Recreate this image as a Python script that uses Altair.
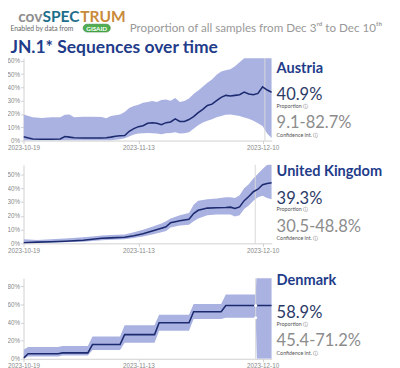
import altair as alt
import pandas as pd

# ---------------- data ----------------
X_START = "2023-10-19"
X_END = "2023-12-12"
TICKS = ["2023-10-19", "2023-11-13", "2023-12-10"]

# Austria
at_dates = ["2023-10-19", "2023-10-21", "2023-10-23", "2023-10-25", "2023-10-27", "2023-10-28",
            "2023-10-29", "2023-10-30", "2023-11-01", "2023-11-03", "2023-11-05", "2023-11-06",
            "2023-11-07", "2023-11-08", "2023-11-09", "2023-11-10", "2023-11-11", "2023-11-12",
            "2023-11-13", "2023-11-14", "2023-11-15", "2023-11-16", "2023-11-17", "2023-11-18",
            "2023-11-19", "2023-11-20", "2023-11-21", "2023-11-22", "2023-11-23", "2023-11-24",
            "2023-11-25", "2023-11-26", "2023-11-27", "2023-11-28", "2023-11-29", "2023-11-30",
            "2023-12-01", "2023-12-02", "2023-12-03", "2023-12-04", "2023-12-05", "2023-12-06",
            "2023-12-07", "2023-12-08", "2023-12-09", "2023-12-10", "2023-12-11", "2023-12-12"]
at_value = [2.9, 1.2, 1.0, 1.0, 1.2, 3.0, 2.6, 2.2, 2.0, 2.0, 2.0, 2.2, 2.6, 3.2, 3.6, 3.8, 7.0, 9.0,
            10.5, 11.2, 13.0, 13.4, 13.0, 12.0, 13.5, 14.0, 16.3, 14.4, 14.4, 15.8, 18.0, 21.0, 23.5,
            26.4, 27.4, 30.0, 32.5, 34.0, 33.5, 34.0, 34.5, 36.5, 35.0, 34.5, 35.5, 40.5, 38.0, 36.4]
at_lower = [0, 0, 0, 0, 0, 0, 0, 0, 0, 0, 0, 0, 0, 0.6, 1.0, 1.7, 3.0, 4.5, 5.3, 5.6, 5.8, 5.6, 5.3,
            4.8, 5.5, 5.8, 6.2, 5.3, 5.5, 6.2, 8.9, 11.5, 13.7, 15.0, 16.0, 17.5, 18.5, 19.5, 19.7,
            19.0, 18.5, 17.3, 16.5, 15.0, 13.0, 11.0, 5.3, 1.7]
at_upper = [19.7, 17.5, 17.0, 17.5, 17.5, 19.5, 19.7, 17.5, 18.0, 18.0, 17.8, 16.8, 18.5, 19.0, 19.7,
            21.6, 24.5, 26.0, 27.0, 28.5, 29.0, 29.7, 29.0, 30.5, 31.0, 30.0, 32.0, 29.0, 29.7, 31.7,
            35.0, 37.6, 40.5, 43.6, 46.0, 49.6, 52.0, 53.0, 53.7, 56.0, 59.0, 62.0, 64.0, 66.0, 66.0,
            66.0, 66.0, 66.0]

# United Kingdom
uk_dates = ["2023-10-19", "2023-10-22", "2023-10-25", "2023-10-28", "2023-11-01", "2023-11-03",
            "2023-11-05", "2023-11-07", "2023-11-10", "2023-11-12", "2023-11-14", "2023-11-16",
            "2023-11-18", "2023-11-19", "2023-11-20", "2023-11-22", "2023-11-24", "2023-11-25",
            "2023-11-26", "2023-11-28", "2023-11-30", "2023-12-02", "2023-12-03", "2023-12-04",
            "2023-12-05", "2023-12-06", "2023-12-07", "2023-12-08", "2023-12-09", "2023-12-10",
            "2023-12-11", "2023-12-12"]
uk_value = [0.5, 0.9, 1.2, 1.6, 2.3, 3.0, 3.7, 4.0, 4.4, 5.6, 7.0, 9.0, 11.0, 12.0, 15.0, 16.5, 17.5,
            21.6, 24.0, 25.6, 25.8, 26.0, 26.3, 25.3, 26.5, 31.0, 34.0, 37.5, 39.3, 42.5, 43.5, 44.0]
uk_lower = [0.0, 0.3, 0.5, 0.8, 1.2, 1.8, 2.3, 2.6, 3.0, 3.9, 5.0, 6.5, 8.0, 9.0, 11.5, 13.0, 13.5,
            16.0, 18.0, 20.5, 21.0, 21.0, 21.0, 19.5, 20.5, 25.0, 27.5, 31.0, 33.5, 34.5, 33.0, 32.0]
uk_upper = [3.0, 2.5, 3.0, 3.5, 4.5, 5.0, 5.8, 6.0, 6.5, 8.0, 9.8, 12.0, 14.5, 16.0, 18.0, 20.5, 22.0,
            28.0, 31.0, 32.0, 32.5, 33.5, 33.5, 33.0, 35.0, 40.0, 43.0, 47.0, 50.5, 54.0, 57.0, 58.0]

# Denmark (weekly steps)
dk_dates = ["2023-10-19T00:00", "2023-10-20T00:00", "2023-10-26T12:00", "2023-10-27T12:00",
            "2023-11-02T00:00", "2023-11-03T00:00", "2023-11-09T00:00", "2023-11-10T00:00",
            "2023-11-16T12:00", "2023-11-17T12:00", "2023-11-24T00:00", "2023-11-25T00:00",
            "2023-12-01T00:00", "2023-12-02T00:00", "2023-12-08T12:00", "2023-12-08T18:00",
            "2023-12-12T00:00"]
dk_value = [0.7, 5.5, 5.5, 6.5, 6.5, 15.7, 15.7, 26.7, 26.7, 39.9, 39.9, 52.0, 52.0, 58.9, 58.9, 58.9, 58.9]
dk_lower = [0.0, 2.5, 2.5, 3.5, 3.5, 9.6, 9.6, 17.8, 17.8, 31.0, 31.0, 44.0, 44.0, 45.4, 45.4, 0.0, 0.0]
dk_upper = [10.0, 13.0, 13.0, 14.0, 14.0, 24.6, 24.6, 37.0, 37.0, 48.8, 48.8, 60.5, 60.5, 71.2, 71.2, 100.0, 100.0]
dk_marker_dates = ["2023-12-08T12:00", "2023-12-08T12:00"]
dk_marker_values = [58.9, 45.4]

countries = ["Austria", "United Kingdom", "Denmark"]
proportions = ["40.9%", "39.3%", "58.9%"]
conf_ints = ["9.1-82.7%", "30.5-48.8%", "45.4-71.2%"]
rule_dates = ["2023-12-10T12:00", "2023-12-08T10:00", "2023-12-08T12:00"]
y_max = [62, 57, 89]
y_ticks = [[0, 10, 20, 30, 40, 50, 60], [0, 10, 20, 30, 40, 50], [0, 20, 40, 60, 80]]

# ---------------- style ----------------
BAND = "#aab2e2"
LINE = "#1c2b6f"
RULE = "#d8d8d8"
NAVY = "#1f3c8a"
DARK = "#2b3a67"
GRAY = "#8c8c8c"
FONT = "Lato"
PW = 256
PL = 23.5  # approx. page x of the plot's left edge (used for header text)


def dt(s):
    d = pd.Timestamp(s)
    return alt.DateTime(year=d.year, month=d.month, date=d.day, hours=d.hour)


def iso(s):
    return pd.Timestamp(s).strftime("%Y-%m-%dT%H:%M:%S")


def txt(text, x, y, size, color, weight="normal", align="left", font=FONT):
    return alt.Chart(pd.DataFrame({"t": [text]})).mark_text(
        align=align, baseline="alphabetic", font=font, fontSize=size,
        fontWeight=weight, color=color
    ).encode(x=alt.value(x), y=alt.value(y), text="t:N")


def panel(i, dates, lo, val, hi, height, ty, markers=None):
    df = pd.DataFrame({
        "date": [iso(d) for d in dates],
        "lower": [v / 100 for v in lo],
        "value": [v / 100 for v in val],
        "upper": [v / 100 for v in hi],
    })
    xs = alt.Scale(domain=[dt(X_START), dt(X_END)])
    ys = alt.Scale(domain=[0, y_max[i] / 100], nice=False)
    xax = alt.Axis(values=[dt(t) for t in TICKS], format="%Y-%m-%d", title=None,
                   labelFlush=False, labelOverlap=False)
    yax = alt.Axis(values=[t / 100 for t in y_ticks[i]], format=".0%", title=None,
                   labelOverlap=False, labelFlush=False)
    X = alt.X("date:T", scale=xs, axis=xax)
    base = alt.Chart(df)
    band = base.mark_area(color=BAND, opacity=1, clip=True).encode(
        x=X, y=alt.Y("lower:Q", scale=ys, axis=yax), y2="upper:Q")
    rule = alt.Chart(pd.DataFrame({"date": [iso(rule_dates[i])]})).mark_rule(
        color=RULE, strokeWidth=1).encode(x=X)
    line = base.mark_line(color=LINE, strokeWidth=1.6, clip=True).encode(
        x=X, y=alt.Y("value:Q", scale=ys, axis=yax))
    layers = [band, rule, line]
    if markers is not None:
        mdf = pd.DataFrame({"date": [iso(d) for d in markers[0]],
                            "value": [v / 100 for v in markers[1]]})
        layers.append(alt.Chart(mdf).mark_point(filled=True, color="white", size=10, opacity=1).encode(
            x=X, y=alt.Y("value:Q", scale=ys, axis=yax)))
    tx = PW + 5
    layers += [
        txt(countries[i], tx, ty[0], 15, NAVY, "bold"),
        txt(proportions[i], tx, ty[1], 17, DARK),
        txt("Proportion \u24d8", tx, ty[2], 5.5, "#555555"),
        txt(conf_ints[i], tx, ty[3], 17, GRAY),
        txt("Confidence int. \u24d8", tx, ty[4], 5.5, "#555555"),
    ]
    return alt.layer(*layers).properties(width=PW, height=height)


row1 = panel(0, at_dates, at_lower, at_value, at_upper, 85, [15, 43, 51, 72, 81])
row2 = panel(1, uk_dates, uk_lower, uk_value, uk_upper, 81, [11, 40, 48, 69, 78])
row3 = panel(2, dk_dates, dk_lower, dk_value, dk_upper, 83, [7, 41, 49, 70, 79],
             (dk_marker_dates, dk_marker_values))

# ---------------- header ----------------
badge = alt.Chart(pd.DataFrame({"t": [0]})).mark_rect(
    color="#4fae4f", cornerRadius=4, stroke="#2e7d32", strokeWidth=0.6
).encode(x=alt.value(85 - PL), x2=alt.value(113 - PL), y=alt.value(14), y2=alt.value(22))

header = alt.layer(
    txt("cov", 18 - PL, 12, 16, "#8f8f8f", "bold"),
    txt("SPEC", 43 - PL, 12, 16, "#1e6e8a", "bold"),
    txt("TRUM", 82 - PL, 12, 16, "#c98a3a", "bold"),
    txt("Enabled by data from", 10 - PL, 21, 7, "#666666"),
    badge,
    txt("GISAID", 99 - PL, 20.5, 6.5, "white", "bold", align="center"),
    txt("Proportion of all samples from Dec 3\u02b3\u1d48 to Dec 10\u1d57\u02b0", 133 - PL, 22, 12, "#999999"),
    txt("JN.1* Sequences over time", 10 - PL, 44, 18, NAVY, "bold"),
).properties(width=380, height=47)

rows12 = alt.vconcat(row1, row2, spacing=13)
rows = alt.vconcat(rows12, row3, spacing=20)
chart = alt.vconcat(header, rows, spacing=0).properties(
    padding={"left": -2, "top": -4, "right": 0, "bottom": 0}
).configure_view(stroke=None).configure_axis(
    labelFontSize=6.5, labelColor="#8a8a8a", tickColor="#cfcfcf", domainColor="#cfcfcf",
    tickSize=3, labelPadding=1, grid=False, labelOverlap=False
)

chart.save("out.html", embed_options={"renderer": "svg", "actions": False})
